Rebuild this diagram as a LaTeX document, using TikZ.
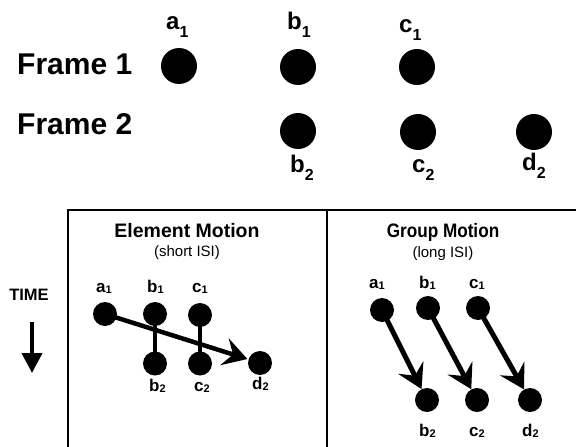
\documentclass[tikz,border=0pt]{standalone}
\usepackage{fontspec}
\setmainfont{Liberation Sans}
\usetikzlibrary{arrows.meta}
\newcommand\toplbl[2]{{\fontsize{24}{24}\selectfont\bfseries #1}\raisebox{-8pt}{\fontsize{16}{16}\selectfont\bfseries #2}}
\newcommand\pnllbl[2]{{\fontsize{17}{17}\selectfont\bfseries #1}\raisebox{-1.5pt}{\fontsize{11}{11}\selectfont\bfseries #2}}
\begin{document}
\begin{tikzpicture}[x=1pt,y=-1pt,
  bigdot/.style={circle,fill=black,minimum size=36pt,inner sep=0pt},
  smalldot/.style={circle,fill=black,minimum size=24pt,inner sep=0pt},
  lbl/.style={anchor=base west,inner sep=0pt},
  framelbl/.style={anchor=base west,inner sep=0pt,font=\fontsize{30}{30}\selectfont\bfseries},
  titlelbl/.style={anchor=base,inner sep=0pt,font=\fontsize{19.5}{19.5}\selectfont\bfseries},
  sublbl/.style={anchor=base,inner sep=0pt,font=\fontsize{15}{15}\selectfont},
  boxline/.style={line width=2pt},
  stemline/.style={line width=4pt},
  motarrow/.style={line width=5pt,-{Stealth[length=24pt,width=28pt,inset=9pt]}},
  timearrow/.style={line width=4pt,-{Triangle[length=20pt,width=20pt]}}]
\useasboundingbox (0,0) rectangle (576,447);
% top part
\node[framelbl] (f1) at (17,74) {Frame 1};
\node[framelbl] (f2) at (17,134) {Frame 2};
\node[bigdot] (ta1) at (179,66) {};
\node[bigdot] (tb1) at (298,67) {};
\node[bigdot] (tc1) at (417,67) {};
\node[bigdot] (tb2) at (298,131) {};
\node[bigdot] (tc2) at (418,132) {};
\node[bigdot] (td2) at (534,132) {};
\node[lbl] (la1) at (166,29) {\toplbl{a}{1}};
\node[lbl] (lb1) at (287,30) {\toplbl{b}{1}};
\node[lbl] (lc1) at (399,32) {\toplbl{c}{1}};
\node[lbl] (lb2) at (290,172) {\toplbl{b}{2}};
\node[lbl] (lc2) at (412,172) {\toplbl{c}{2}};
\node[lbl] (ld2) at (522,170) {\toplbl{d}{2}};
% box
\coordinate (boxbl) at (68,447);
\coordinate (boxtr) at (576,210);
\coordinate (divt) at (327,210);
\coordinate (divb) at (327,447);
\draw[boxline] (boxbl) |- (boxtr);
\draw[boxline] (divt) -- (divb);
% time
\node[anchor=base,inner sep=0pt,font=\fontsize{16.5}{16.5}\selectfont\bfseries] (time) at (29,300) {TIME};
\coordinate (ts) at (32,322);
\coordinate (te) at (32,373);
\draw[timearrow] (ts) -- (te);
% element motion panel
\node[titlelbl] (et) at (187,237) {Element Motion};
\node[sublbl] (es) at (187,256) {(short ISI)};
\node[smalldot] (ea1) at (105,314) {};
\node[smalldot] (eb1) at (155,314) {};
\node[smalldot] (ec1) at (200,315) {};
\node[smalldot] (eb2) at (155,363.5) {};
\node[smalldot] (ec2) at (200,363.5) {};
\node[smalldot] (ed2) at (260,363) {};
\draw[stemline] (eb1.center) -- (eb2.center);
\draw[stemline] (ec1.center) -- (ec2.center);
\draw[motarrow,line width=4.5pt,shorten >=1pt] (ea1.center) -- (ed2);
\node[lbl] (ela1) at (96,292) {\pnllbl{a}{1}};
\node[lbl] (elb1) at (147,292) {\pnllbl{b}{1}};
\node[lbl] (elc1) at (192,292) {\pnllbl{c}{1}};
\node[lbl] (elb2) at (149,391) {\pnllbl{b}{2}};
\node[lbl] (elc2) at (194,391) {\pnllbl{c}{2}};
\node[lbl] (eld2) at (252,389) {\pnllbl{d}{2}};
% group motion panel
\node[titlelbl] (gt) at (443,237) {\scalebox{0.88}[1]{Group Motion}};
\node[sublbl] (gs) at (443,257) {(long ISI)};
\node[smalldot] (ga1) at (382,310) {};
\node[smalldot] (gb1) at (428,308) {};
\node[smalldot] (gc1) at (478,308) {};
\node[smalldot] (gb2) at (427,400) {};
\node[smalldot] (gc2) at (477,400) {};
\node[smalldot] (gd2) at (530,400) {};
\draw[motarrow] (ga1.center) -- (gb2);
\draw[motarrow] (gb1.center) -- (gc2);
\draw[motarrow] (gc1.center) -- (gd2);
\node[lbl] (gla1) at (369,288) {\pnllbl{a}{1}};
\node[lbl] (glb1) at (419,288) {\pnllbl{b}{1}};
\node[lbl] (glc1) at (469,288) {\pnllbl{c}{1}};
\node[lbl] (glb2) at (419,436) {\pnllbl{b}{2}};
\node[lbl] (glc2) at (469,436) {\pnllbl{c}{2}};
\node[lbl] (gld2) at (522,436) {\pnllbl{d}{2}};
\end{tikzpicture}
\end{document}
